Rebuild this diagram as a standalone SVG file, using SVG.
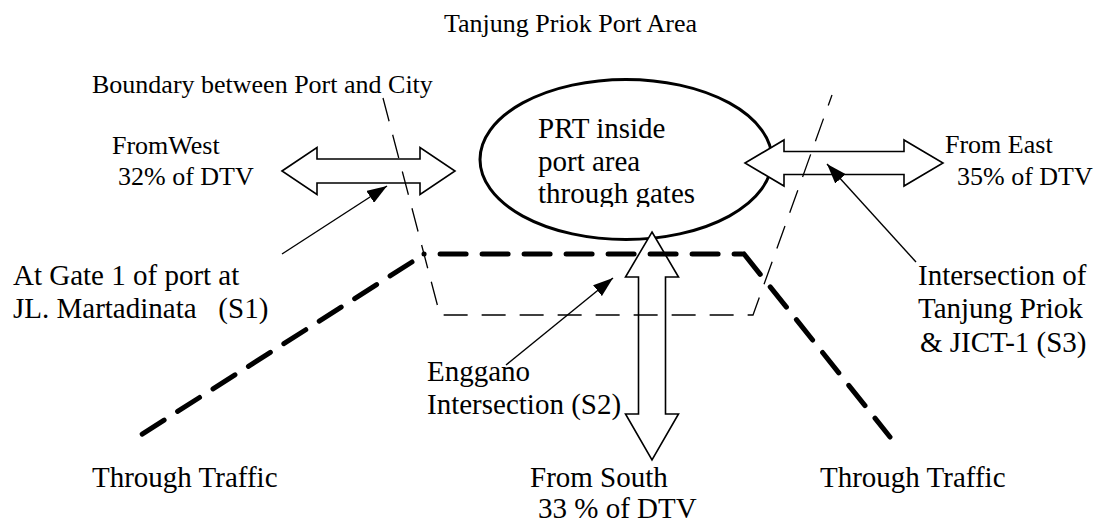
<svg xmlns="http://www.w3.org/2000/svg" width="1100" height="527" viewBox="0 0 1100 527">
<style>
text{font-family:"Liberation Serif","Times New Roman",serif;fill:#000;white-space:pre}
.s{font-size:26px}
.b{font-size:29px}
.arrow{fill:#fff;stroke:#000;stroke-width:1.6;stroke-linejoin:miter}
.road{fill:none;stroke:#000;stroke-width:5;stroke-linecap:round;stroke-dasharray:26 16}
.bound{fill:none;stroke:#000;stroke-width:1.3;stroke-dasharray:24 14}
.ptr{fill:none;stroke:#000;stroke-width:1.4}
</style>
<defs>
<marker id="tri" viewBox="0 0 20 14" refX="20" refY="7" markerWidth="20" markerHeight="14" markerUnits="userSpaceOnUse" orient="auto">
<path d="M0,0 L20,7 L0,14 z" fill="#000"/>
</marker>
<clipPath id="clipPRT"><rect x="480" y="95" width="292" height="112"/></clipPath>
</defs>
<rect width="1100" height="527" fill="#fff"/>

<text id="title" class="s" x="444" y="32">Tanjung Priok Port Area</text>

<g id="prt">
<ellipse cx="626" cy="159.5" rx="146" ry="80" fill="#fff" stroke="#000" stroke-width="3"/>
<g clip-path="url(#clipPRT)">
<text class="b" x="538" y="138">PRT inside</text>
<text class="b" x="538" y="171">port area</text>
<text class="b" x="538" y="203">through gates</text>
</g>
</g>

<g id="west">
<polygon class="arrow" points="282,171 317,147.5 317,159 420,159 420,147.5 455,171 420,194.5 420,183 317,183 317,194.5"/>
<text class="s" x="112" y="154">FromWest</text>
<text class="s" x="118" y="185">32% of DTV</text>
</g>

<g id="east">
<polygon class="arrow" points="745,163 784,140 784,151.5 904,151.5 904,140 943,163 904,186 904,174.5 784,174.5 784,186"/>
<text class="s" x="945" y="153">From East</text>
<text class="s" x="957" y="185">35% of DTV</text>
</g>

<g id="south">
<polygon class="arrow" points="652,232 678.5,277 665.5,277 665.5,414 678.5,414 652,460 625.5,414 638.5,414 638.5,277 625.5,277"/>
<text class="b" x="530" y="487">From South</text>
<text class="b" x="538" y="518">33 % of DTV</text>
</g>

<g id="connectors">
<path class="bound" d="M383,98 L440,315 L753,315 L832,95"/>
<path class="road" d="M412,262 L136,438"/>
<path class="road" d="M424,254 L742,254" style="stroke-dashoffset:25.9"/>
<path class="road" d="M744,254 L890,437"/>
<line class="ptr" x1="282" y1="254" x2="387" y2="186" marker-end="url(#tri)"/>
<line class="ptr" x1="506" y1="365" x2="613" y2="278" marker-end="url(#tri)"/>
<line class="ptr" x1="916" y1="262" x2="827" y2="164" marker-end="url(#tri)"/>
</g>

<g id="boundary-label"><text class="s" x="92" y="93">Boundary between Port and City</text></g>

<g id="s1">
<text class="b" x="13" y="285">At Gate 1 of port at</text>
<text class="b" x="13" y="318">JL. Martadinata   (S1)</text>
</g>

<g id="s2">
<text class="b" x="427" y="381">Enggano</text>
<text class="b" x="427" y="414">Intersection (S2)</text>
</g>

<g id="s3">
<text class="b" x="918" y="285">Intersection of</text>
<text class="b" x="918" y="318">Tanjung Priok</text>
<text class="b" x="920" y="352">&amp; JICT-1 (S3)</text>
</g>

<g id="through-left"><text class="b" x="92" y="487">Through Traffic</text></g>
<g id="through-right"><text class="b" x="820" y="487">Through Traffic</text></g>
</svg>
